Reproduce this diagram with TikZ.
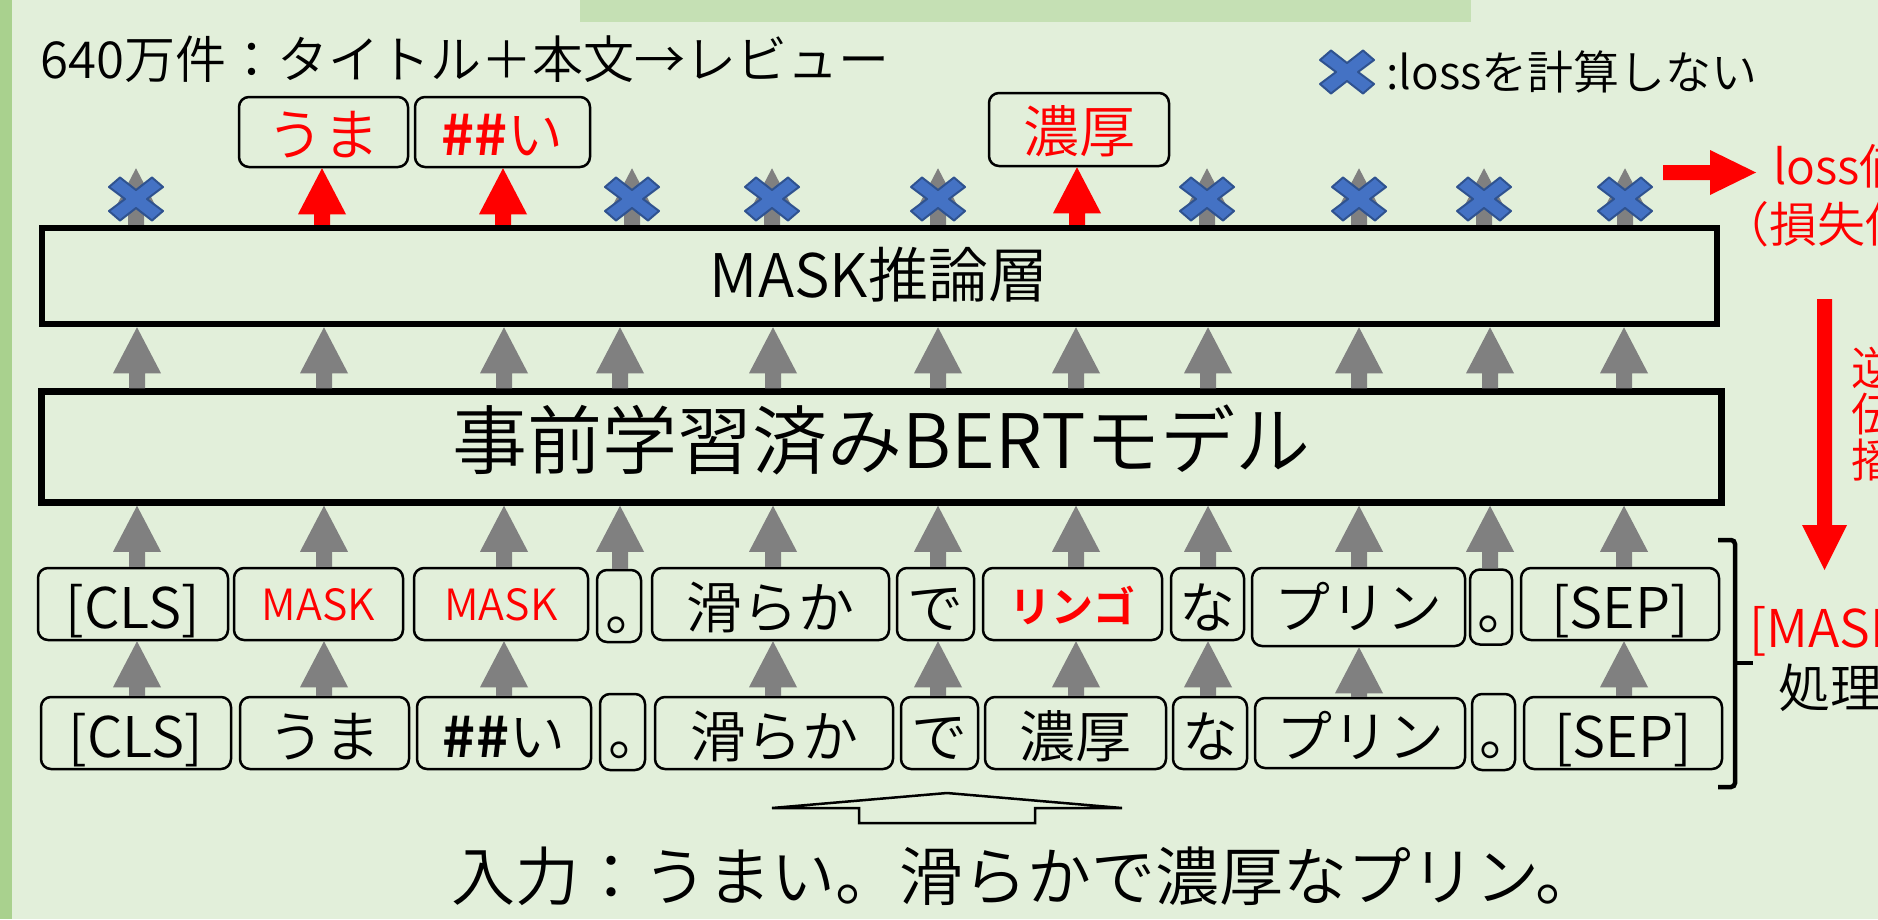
\documentclass[tikz,border=0pt]{standalone}
\usepackage{fontspec}
\setmainfont{Noto Sans CJK JP}[UprightFont={* DemiLight}, BoldFont={* Bold}]
\usetikzlibrary{calc}
\definecolor{bg}{HTML}{E2EFDA}
\definecolor{strip}{HTML}{A9D18E}
\definecolor{topbar}{HTML}{C5E0B4}
\definecolor{arrgray}{HTML}{808080}
\definecolor{xblue}{HTML}{4472C4}
\definecolor{xbord}{HTML}{2F528F}
\definecolor{myred}{HTML}{FF0000}
\newcommand\fs[1]{\fontsize{#1pt}{#1pt}\selectfont}
\newcommand\maru{\makebox[0pt]{\hspace*{0.5em}。}}
\newcommand\blkarrow[3]{\fill[#1] ($#2+(-8,0)$) -- ($#3+(-8,46)$) -- ($#3+(-24,46)$) -- #3 -- ($#3+(24,46)$) -- ($#3+(8,46)$) -- ($#2+(8,0)$) -- cycle;}
\begin{document}
\begin{tikzpicture}[x=1pt,y=-1pt,
  tok/.style={draw=black, line width=2.5pt, rounded corners=10pt, inner sep=0pt, minimum height=72pt, font=\fs{56}, text height=48pt, text depth=0pt},
  outtok/.style={tok, text=myred, text height=46pt},
  layer/.style={draw=black, inner sep=0pt},
  plain/.style={inner sep=0pt},
  xmark/.pic={\filldraw[fill=xblue, draw=xbord, line width=2pt, line join=round] (-27,-12) -- (-16,-21.5) -- (0,-9) -- (16,-21.5) -- (27,-12) -- (11,0) -- (27,12) -- (16,21.5) -- (0,9) -- (-16,21.5) -- (-27,12) -- (-11,0) -- cycle;}
]
\useasboundingbox (0,0) rectangle (1878,919);
\clip (0,0) rectangle (1878,919);
\fill[bg] (0,0) rectangle (1878,919);
\fill[strip] (0,0) rectangle (12,919);
\fill[topbar] (580,0) rectangle (1471,22);

% column coordinates
\foreach \n/\x in {1/137,2/324,3/504,4/620,5/773,6/938,7/1076,8/1208,9/1359,10/1490,11/1624}
  \coordinate (k\n) at (\x,0);
\foreach \n/\x in {1/136,2/322,3/503,4/632,5/772,6/938,7/1077,8/1207,9/1359,10/1484,11/1625}
  \coordinate (t\n) at (\x,0);

% title and legend
\node[plain, anchor=base west, font=\fs{51}] (title) at (40,78) {640万件：タイトル＋本文→レビュー};
\pic at (1347,72) {xmark};
\node[plain, anchor=base west, font=\fs{46}] (legend) at (1386,89) {:lossを計算しない};

% layers
\node[layer, line width=6pt, minimum width=1675pt, minimum height=96.5pt, font=\fs{60}, text height=42pt, text depth=0pt] (mask) at (879,276) {MASK推論層};
\node[layer, line width=7pt, minimum width=1680pt, minimum height=110.5pt, font=\fs{75}, text height=42pt, text depth=0pt] (bert) at (881.5,447) {事前学習済みBERTモデル};

% outputs
\node[outtok, minimum width=169pt, minimum height=70pt] (o1) at (323.5,132) {うま};
\node[outtok, minimum width=175pt, minimum height=70pt] (o2) at (502.5,132) {\textbf{\#\#}い};
\node[outtok, minimum width=180pt, minimum height=73pt] (o3) at (1079,129.5) {濃厚};

% row 1 (masked)
\node[tok, minimum width=190pt] (r1a) at (133,604) {[CLS]};
\node[tok, minimum width=169pt, text=myred, font=\fs{43}, text height=33pt] (r1b) at (318.5,604) {MASK};
\node[tok, minimum width=174pt, text=myred, font=\fs{43}, text height=33pt] (r1c) at (501,604) {MASK};
\node[tok, minimum width=44pt] (r1d) at (619,606) {\maru};
\node[tok, minimum width=237pt] (r1e) at (770.5,604) {滑らか};
\node[tok, minimum width=77pt] (r1f) at (935.5,604) {で};
\node[tok, minimum width=179pt, text=myred, font=\fs{42}\bfseries, text height=36pt] (r1g) at (1072.5,604) {リンゴ};
\node[tok, minimum width=73pt] (r1h) at (1207.5,604) {な};
\node[tok, minimum width=213pt, minimum height=78pt, text height=42pt] (r1i) at (1358.5,607) {プリン};
\node[tok, minimum width=42pt, minimum height=75pt, text height=45pt] (r1j) at (1491,607) {\maru};
\node[tok, minimum width=198pt] (r1k) at (1620,604) {[SEP]};

% row 2 (original)
\node[tok, minimum width=190pt] (r2a) at (136,733) {[CLS]};
\node[tok, minimum width=169pt] (r2b) at (324.5,733) {うま};
\node[tok, minimum width=174pt] (r2c) at (504,733) {\textbf{\#\#}い};
\node[tok, minimum width=45pt, minimum height=76pt, text height=46pt] (r2d) at (622.5,732) {\maru};
\node[tok, minimum width=238pt] (r2e) at (774,733) {滑らか};
\node[tok, minimum width=77pt] (r2f) at (939.5,733) {で};
\node[tok, minimum width=181pt] (r2g) at (1075.5,733) {濃厚};
\node[tok, minimum width=74pt] (r2h) at (1210,733) {な};
\node[tok, minimum width=210pt, minimum height=70pt] (r2i) at (1360,733) {プリン};
\node[tok, minimum width=43pt, minimum height=76pt, text height=46pt] (r2j) at (1493.5,732) {\maru};
\node[tok, minimum width=198pt] (r2k) at (1623,733) {[SEP]};

% arrows row2 -> row1
\foreach \k/\a/\b in {k1/r2a/r1a,k2/r2b/r1b,k3/r2c/r1c,k5/r2e/r1e,k6/r2f/r1f,k7/r2g/r1g,k8/r2h/r1h,k9/r2i/r1i,k11/r2k/r1k}
  {\blkarrow{arrgray}{(\k |- \a.north)}{(\k |- \b.south)}}
% arrows row1 -> BERT
\foreach \k/\a in {k1/r1a,k2/r1b,k3/r1c,k4/r1d,k5/r1e,k6/r1f,k7/r1g,k8/r1h,k9/r1i,k10/r1j,k11/r1k}
  {\blkarrow{arrgray}{(\k |- \a.north)}{(\k |- bert.south)}}
% arrows BERT -> MASK
\foreach \k in {k1,k2,k3,k4,k5,k6,k7,k8,k9,k10,k11}
  {\blkarrow{arrgray}{(\k |- bert.north)}{(\k |- mask.south)}}
% arrows above MASK
\foreach \t in {t1,t4,t5,t6,t8,t9,t10,t11}
  {\blkarrow{arrgray}{(\t |- mask.north)}{(\t |- o1.south)}
   \pic at (\t |- 0,199) {xmark};}
\blkarrow{myred}{(t2 |- mask.north)}{(t2 |- o1.south)}
\blkarrow{myred}{(t3 |- mask.north)}{(t3 |- o2.south)}
\blkarrow{myred}{(t7 |- mask.north)}{(t7 |- o3.south)}

% bracket
\draw[line width=4.5pt, rounded corners=4pt] (1718,540) -- (1735,540) -- (1735,787) -- (1718,787);
\draw[line width=4.5pt] (1735,663) -- (1753,663);

% input
\node[plain, anchor=base west, font=\fs{64}] (input) at (451,900) {入力：うまい。滑らかで濃厚なプリン。};
\draw[line width=2.5pt, fill=bg] (947,793) -- (1122,808) -- (1035,808) -- (1035,823) -- (859,823) -- (859,808) -- (772,808) -- cycle;

% right side
\fill[myred] (1663,165) -- (1710,165) -- (1710,150) -- (1756,172.5) -- (1710,195) -- (1710,180) -- (1663,180) -- cycle;
\fill[myred] (1817,299) -- (1832,299) -- (1832,525) -- (1847,525) -- (1824.5,570) -- (1802,525) -- (1817,525) -- cycle;
\node[plain, anchor=base west, text=myred, font=\fs{48}] (lossv) at (1773,184) {loss値};
\node[plain, anchor=base west, text=myred, font=\fs{48}] (sonshitsu) at (1721,242) {（損失値）};
\node[plain, anchor=north west, text=myred, font=\fs{46}, align=left] (gyaku) at (1851,347) {逆\\伝\\播};
\node[plain, anchor=base west, text=myred, font=\fs{52}] (maskt) at (1749,647) {[MASK]};
\node[plain, anchor=base west, font=\fs{52}] (shori) at (1778,707) {処理};
\end{tikzpicture}
\end{document}
